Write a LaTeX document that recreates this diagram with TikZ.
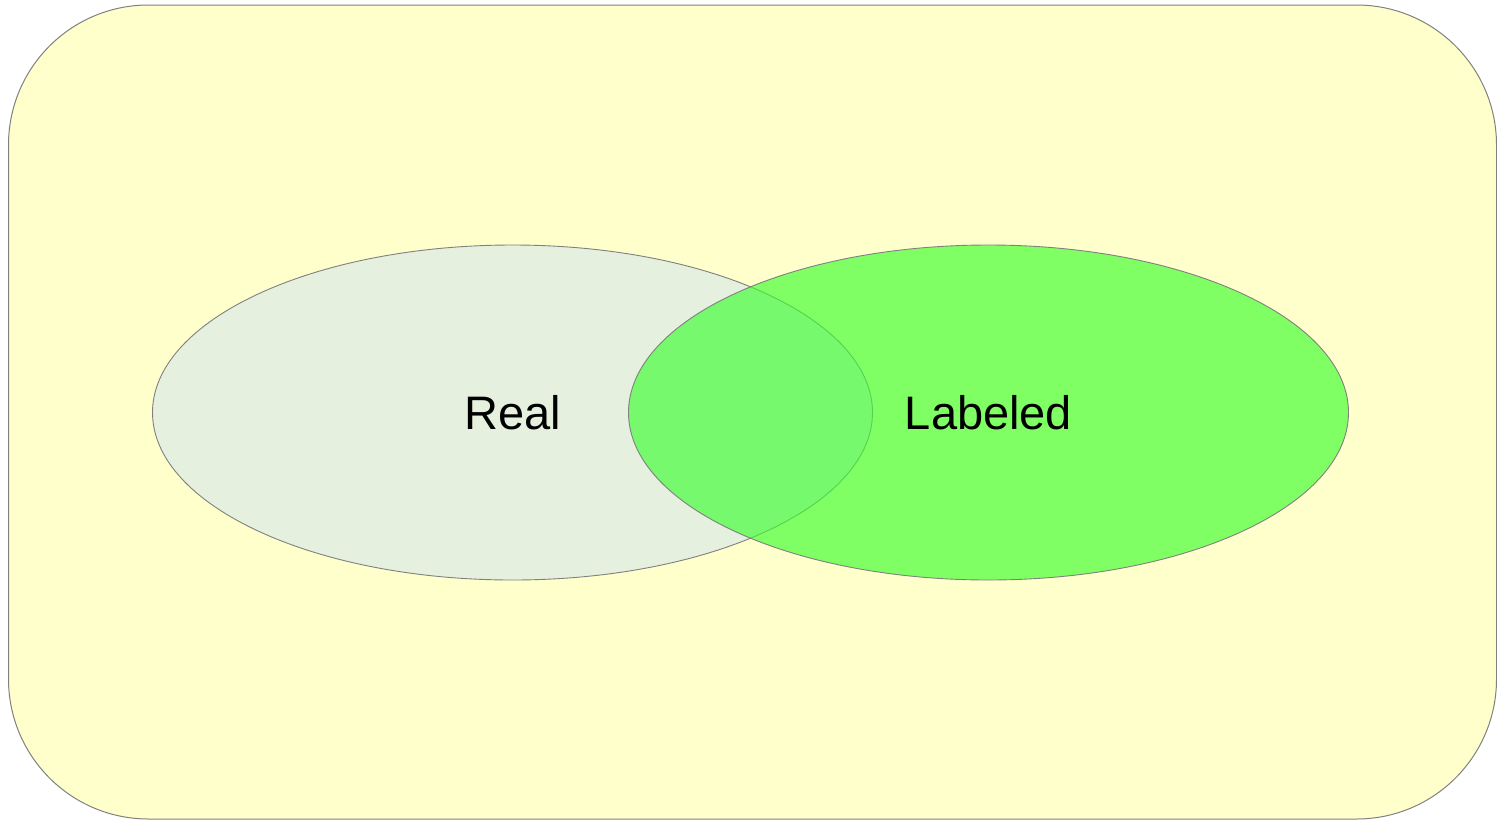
\documentclass[tikz,border=0pt]{standalone}
\usepackage{fontspec}
\setmainfont{Liberation Sans}
\usetikzlibrary{shapes.geometric}
\definecolor{bgyellow}{RGB}{255,255,204}
\definecolor{realfill}{RGB}{229,240,223}
\definecolor{labfill}{RGB}{60,255,47}
\definecolor{edgegray}{RGB}{128,128,128}
\tikzset{
  setshape/.style={ellipse, draw=edgegray, line width=0.9pt, inner sep=0pt,
    minimum width=720pt, minimum height=335pt,
    font=\fontsize{47}{50}\selectfont, text=black},
}
\begin{document}
\begin{tikzpicture}[x=1pt,y=-1pt]
\useasboundingbox (0,0) rectangle (1497,820);
\draw[edgegray, line width=1pt, fill=bgyellow, rounded corners=140pt] (8.5,5) rectangle (1496.5,819);
\node[setshape, fill=realfill] (real) at (512.5,412.5) {Real};
\node[setshape, fill=labfill, fill opacity=0.65, text opacity=1] (labeled) at (988.5,412.5) {Labeled};
\end{tikzpicture}
\end{document}
